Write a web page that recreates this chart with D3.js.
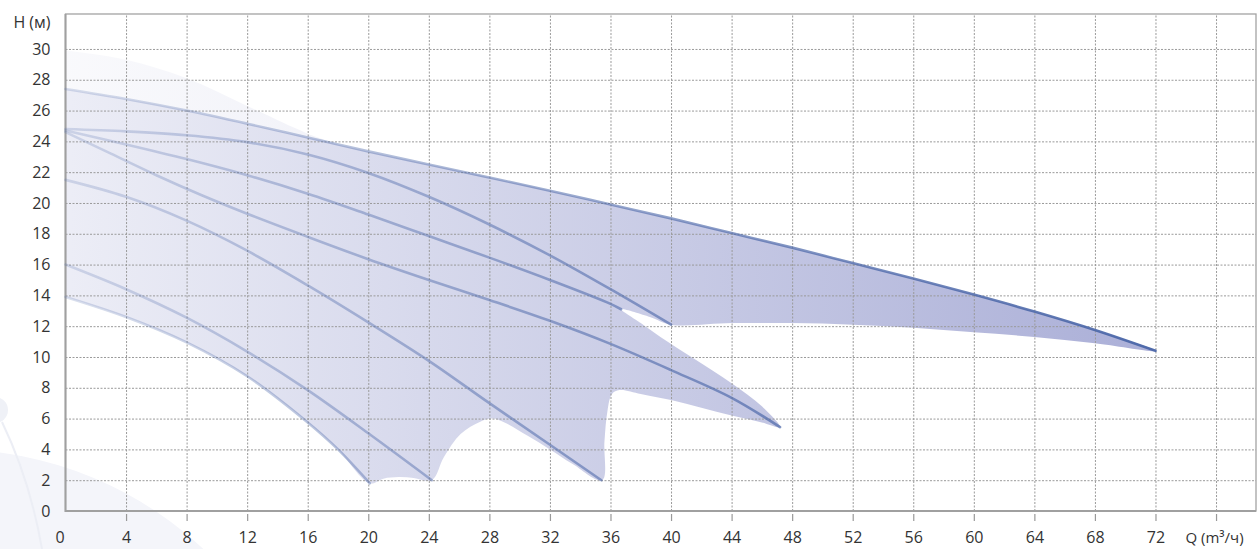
<!DOCTYPE html>
<html>
<head>
<meta charset="utf-8">
<script src="https://cdn.jsdelivr.net/npm/d3@7"></script>
<style>
  body { margin: 0; background: #fff; }
  text { font-family: "Open Sans", "DejaVu Sans", sans-serif; }
</style>
</head>
<body>
<svg id="chart" width="1259" height="549"></svg>
<script>
// tick values
const qTicks = [0, 4, 8, 12, 16, 20, 24, 28, 32, 36, 40, 44, 48, 52, 56, 60, 64, 68, 72, 76]
const hTicks = [0, 2, 4, 6, 8, 10, 12, 14, 16, 18, 20, 22, 24, 26, 28, 30, 32]

// pump curves [Q, H]
const curve1 = [[0,27.4],[4,26.75],[8,26.0],[12,25.15],[16,24.25],[20,23.35],[24,22.5],[28,21.65],[32,20.8],[36,19.9],[40,19.0],[44,18.05],[48,17.1],[52,16.1],[56,15.1],[60,14.05],[64,12.95],[68,11.75],[72,10.4]]
const curve2 = [[0,24.8],[4,24.65],[8,24.4],[12,23.95],[16,23.15],[20,21.95],[24,20.4],[28,18.6],[32,16.6],[36,14.4],[40,12.1]]
const curve3 = [[0,24.7],[4,23.8],[8,22.85],[12,21.8],[16,20.6],[20,19.25],[24,17.85],[28,16.45],[32,15.0],[36,13.45],[36.7,13.1]]
const curve4 = [[0,24.6],[3,23.2],[6,21.8],[9,20.5],[12,19.3],[16,17.8],[20,16.35],[24,15.0],[28,13.7],[32,12.35],[36,10.85],[40,9.15],[44,7.35],[47.2,5.45]]
const curve5 = [[0,21.5],[4,20.4],[8,18.85],[12,16.9],[16,14.65],[20,12.25],[24,9.75],[28,7.0],[32,4.3],[35.4,2.0]]
const curve6 = [[0,16.0],[4,14.4],[8,12.55],[12,10.35],[16,7.85],[20,5.05],[24.2,2.0]]
const curve7 = [[0,13.9],[4,12.6],[8,10.95],[12,8.75],[16,5.75],[18,4.0],[20.1,1.8]]

// field boundaries
const topFaint = [[0,29.9],[4,29.3],[8,28.1],[12,26.3],[16,24.5],[18,23.8]]
const bottomA = [[72,10.4],[68,10.9],[64,11.3],[60,11.6],[56,11.9],[52,12.1],[48,12.2],[44,12.2],[40,12.1]]
const notchTop = [[40,12.1],[38.6,12.6],[36.7,13.1]]
const notchBottom = [[36.7,13.1],[38,12.2],[39.3,11.3],[41.5,9.9],[44,8.3],[46,6.8],[47.2,5.45]]
const bottom4 = [[47.2,5.45],[46,5.75],[44,6.2],[42,6.7],[40,7.2],[38,7.6],[36.6,7.85]]
const drop4 = [[36.6,7.85],[36.1,7.6],[35.8,6.5],[35.6,4.5],[35.45,2.0]]
const bump56 = [[35.4,2.0],[33.5,3.05],[32,4.0],[30.5,4.9],[29,5.75],[28.2,6.0],[27.4,5.8],[26.1,5.0],[25,3.5],[24.2,2.0]]
const bump67 = [[24.2,2.0],[23,2.15],[22,2.2],[21,2.1],[20.1,1.8]]

const svg = d3.select('#chart')
const margin = { left: 65.5, top: 14, bottom: 38, right: 3 }
const width = 1259 - margin.left - margin.right
const height = 549 - margin.top - margin.bottom

const x = d3.scaleLinear().domain([0, 78.64]).range([margin.left, margin.left + width])
const y = d3.scaleLinear().domain([0, 32.27]).range([margin.top + height, margin.top])

// faint background watermark
svg.append('circle').attr('cx', -50).attr('cy', 820).attr('r', 371).style('fill', '#f4f5fa')
svg.append('circle').attr('cx', -5).attr('cy', 410).attr('r', 13).style('fill', '#eff1f7')
svg.append('path').attr('d', 'M 2 422 Q 30 480 42 549').style('fill', 'none').style('stroke', '#eceef5').style('stroke-width', 2)

const defs = svg.append('defs')
const addGrad = (id, color, o1, o2) => {
    const g = defs.append('linearGradient').attr('id', id)
        .attr('gradientUnits', 'userSpaceOnUse')
        .attr('x1', x(0)).attr('x2', x(72)).attr('y1', 0).attr('y2', 0)
    g.append('stop').attr('offset', 0).attr('stop-color', color).attr('stop-opacity', o1)
    g.append('stop').attr('offset', 1).attr('stop-color', color).attr('stop-opacity', o2)
}
addGrad('fillGrad', '#8a90c8', 0.16, 0.72)
addGrad('faintGrad', '#8a90c8', 0.05, 0.3)
addGrad('lineGrad', '#4a66a8', 0.2, 0.95)

const smooth = d3.line().x(d => x(d[0])).y(d => y(d[1])).curve(d3.curveCatmullRom.alpha(0.5))

// faint upper region
const faint = topFaint.concat(curve1.filter(d => d[0] <= 16).reverse())
svg.append('path').attr('d', smooth(faint) + 'Z').style('fill', 'url(#faintGrad)')

// main field
const pieces = [curve1, bottomA, notchTop, notchBottom, bottom4, drop4, bump56, bump67, curve7.slice().reverse()]
let field = []
pieces.forEach(p => { field = field.concat(field.length ? p.slice(1) : p) })
svg.append('path').attr('d', smooth(field) + 'Z').style('fill', 'url(#fillGrad)')

// grid
svg.append('g')
    .attr('transform', `translate(0,${y(0)})`)
    .call(d3.axisBottom(x).tickValues(qTicks.filter(d => d > 0)).tickSize(-height).tickFormat(''))
    .call(g => g.select('.domain').remove())
    .selectAll('line').style('stroke', '#9a9a9a').style('stroke-dasharray', '2,1.5')

svg.append('g')
    .attr('transform', `translate(${x(0)},0)`)
    .call(d3.axisLeft(y).tickValues(hTicks.filter(d => d > 0 && d < 32)).tickSize(-width).tickFormat(''))
    .call(g => g.select('.domain').remove())
    .selectAll('line').style('stroke', '#9a9a9a').style('stroke-dasharray', '2,1.5')

// frame
svg.append('rect')
    .attr('x', x(0)).attr('y', margin.top).attr('width', width).attr('height', height)
    .style('fill', 'none').style('stroke', '#a3a3a3').style('stroke-width', 1.3)
svg.append('path')
    .attr('d', `M${x(0)},${margin.top} V${y(0)} H${margin.left + width}`)
    .style('fill', 'none').style('stroke', '#a0a0a0').style('stroke-width', 2)

// pump curves
const lines = [curve7, curve6, curve5, curve4, curve3, curve2, curve1]
svg.append('g')
    .selectAll('path')
    .data(lines)
    .join('path')
    .attr('d', d => smooth(d))
    .style('fill', 'none')
    .style('stroke', 'url(#lineGrad)')
    .style('stroke-width', 2.6)
    .style('stroke-linecap', 'round')

// axes labels
const xAxis = svg.append('g')
    .attr('transform', `translate(0,${y(0)})`)
    .call(d3.axisBottom(x).tickValues(qTicks).tickSize(10).tickPadding(11)
        .tickFormat(d => d === 76 ? 'Q (m³/ч)' : d))
xAxis.select('.domain').remove()
xAxis.selectAll('line').style('stroke', '#999').attr('y1', 3).style('stroke-width', 1.2)
xAxis.selectAll('.tick').filter(d => d === 0).select('line').remove()
xAxis.selectAll('.tick').filter(d => d === 0).select('text').attr('x', -6)
xAxis.selectAll('text').style('font-size', '16px').style('fill', '#333')
xAxis.selectAll('.tick').filter(d => d === 76).select('text').style('font-size', '15px').attr('x', -2)

const yAxis = svg.append('g')
    .attr('transform', `translate(${x(0)},0)`)
    .call(d3.axisLeft(y).tickValues(hTicks).tickSize(0).tickPadding(15)
        .tickFormat(d => d === 32 ? 'H (м)' : d))
yAxis.select('.domain').remove()
yAxis.selectAll('text').style('font-size', '16px').style('fill', '#333')
yAxis.selectAll('.tick').filter(d => d === 32).select('text').attr('dy', '0.6em')
</script>
</body>
</html>
